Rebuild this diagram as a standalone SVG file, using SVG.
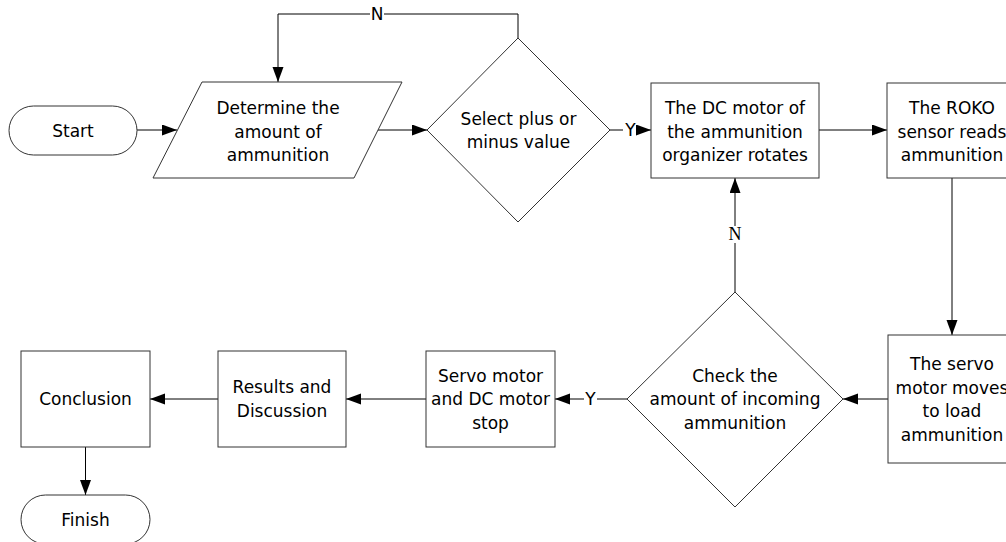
<svg xmlns="http://www.w3.org/2000/svg" width="1006" height="542" viewBox="0 0 1006 542">
<style>
.s{fill:#fff;stroke:#333;stroke-width:1}
.t{font-family:"DejaVu Sans",Verdana,sans-serif;font-size:17px;fill:#000;text-anchor:middle}
.ts{font-family:"Liberation Serif","Times New Roman",serif;font-size:18px;fill:#000;text-anchor:middle}
.c{fill:none;stroke:#000;stroke-width:1}
</style>
<defs>
<marker id="a" markerUnits="userSpaceOnUse" markerWidth="16" markerHeight="12" refX="15" refY="5.5" orient="auto">
<path d="M0,0 L15,5.5 L0,11 z" fill="#000"/>
</marker>
</defs>
<rect width="1006" height="542" fill="#fff"/>
<g id="connectors">
<path class="c" d="M137,130 H177" marker-end="url(#a)"/>
<path class="c" d="M378,130 H427" marker-end="url(#a)"/>
<path class="c" d="M518,38 V14 H384"/>
<path class="c" d="M370,14 H278 V82" marker-end="url(#a)"/>
<text class="t" x="377" y="20">N</text>
<path class="c" d="M610,130 H623"/>
<text class="t" x="630.5" y="136">Y</text>
<path class="c" d="M638,130 H651" marker-end="url(#a)"/>
<path class="c" d="M819,130 H887" marker-end="url(#a)"/>
<path class="c" d="M952,178 V335" marker-end="url(#a)"/>
<path class="c" d="M888,399 H843" marker-end="url(#a)"/>
<path class="c" d="M735,292 V243"/>
<text class="ts" x="735" y="240">N</text>
<path class="c" d="M735,226 V178" marker-end="url(#a)"/>
<path class="c" d="M627,399 H597"/>
<text class="t" x="590.5" y="405">Y</text>
<path class="c" d="M584,399 H555" marker-end="url(#a)"/>
<path class="c" d="M426,399 H346" marker-end="url(#a)"/>
<path class="c" d="M218,399 H150" marker-end="url(#a)"/>
<path class="c" d="M85.5,447 V495" marker-end="url(#a)"/>
</g>
<g id="start">
<rect class="s" x="9" y="106" width="128" height="49" rx="24.5"/>
<text class="t" x="73" y="136.5">Start</text>
</g>
<g id="determine">
<polygon class="s" points="202,82 402,82 354,178 153,178"/>
<text class="t" x="278" y="114">Determine the</text>
<text class="t" x="278" y="137.5">amount of</text>
<text class="t" x="278" y="161">ammunition</text>
</g>
<g id="select">
<polygon class="s" points="518,38 610,130 518,222 427,130"/>
<text class="t" x="518.5" y="124.5">Select plus or</text>
<text class="t" x="518.5" y="147.5">minus value</text>
</g>
<g id="dcmotor">
<rect class="s" x="651" y="83" width="168" height="95"/>
<text class="t" x="735" y="114">The DC motor of</text>
<text class="t" x="735" y="137.5">the ammunition</text>
<text class="t" x="735" y="161">organizer rotates</text>
</g>
<g id="roko">
<rect class="s" x="887" y="83" width="130" height="95"/>
<text class="t" x="952" y="114">The ROKO</text>
<text class="t" x="952" y="137.5">sensor reads</text>
<text class="t" x="952" y="161">ammunition</text>
</g>
<g id="servo">
<rect class="s" x="888" y="335" width="128" height="128"/>
<text class="t" x="952" y="370">The servo</text>
<text class="t" x="952" y="393.5">motor moves</text>
<text class="t" x="952" y="417">to load</text>
<text class="t" x="952" y="440.5">ammunition</text>
</g>
<g id="check">
<polygon class="s" points="735,292 843,399 735,507 627,399"/>
<text class="t" x="735" y="381.5">Check the</text>
<text class="t" x="735" y="405">amount of incoming</text>
<text class="t" x="735" y="428.5">ammunition</text>
</g>
<g id="stop">
<rect class="s" x="426" y="351" width="129" height="96"/>
<text class="t" x="490.5" y="381.5">Servo motor</text>
<text class="t" x="490.5" y="405">and DC motor</text>
<text class="t" x="490.5" y="428.5">stop</text>
</g>
<g id="results">
<rect class="s" x="218" y="351" width="128" height="96"/>
<text class="t" x="282" y="393">Results and</text>
<text class="t" x="282" y="416.5">Discussion</text>
</g>
<g id="conclusion">
<rect class="s" x="21" y="351" width="129" height="96"/>
<text class="t" x="85.5" y="405">Conclusion</text>
</g>
<g id="finish">
<rect class="s" x="21" y="495" width="129" height="49" rx="24.5"/>
<text class="t" x="85.5" y="525.5">Finish</text>
</g>
</svg>
